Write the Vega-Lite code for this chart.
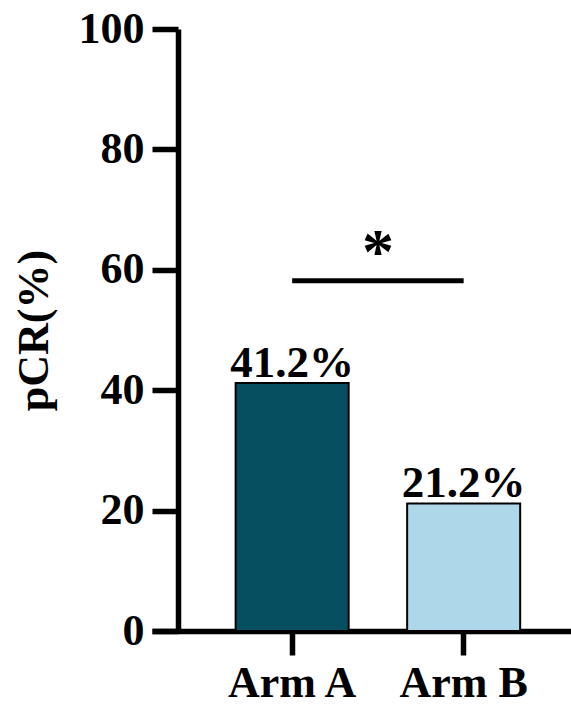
{
  "$schema": "https://vega.github.io/schema/vega-lite/v6.json",
  "autosize": "none",
  "width": 419,
  "height": 602,
  "padding": {"left": 152, "top": 29, "right": 0, "bottom": 75},
  "config": {
    "view": {"stroke": null},
    "font": "Times New Roman, Liberation Serif, serif",
    "axis": {"grid": false, "domainColor": "black", "tickColor": "black", "labelColor": "black", "titleColor": "black", "labelFont": "Times New Roman, Liberation Serif, serif", "titleFont": "Times New Roman, Liberation Serif, serif", "labelFontWeight": "bold", "titleFontWeight": "bold", "labelFontSize": 44, "titleFontSize": 44, "domainWidth": 5.5, "tickWidth": 5.5}
  },
  "datasets": {
    "bars": [
      {"arm": "Arm A", "pcr": 41.2, "label": "41.2%"},
      {"arm": "Arm B", "pcr": 21.2, "label": "21.2%"}
    ],
    "sig": [
      {"from": "Arm A", "to": "Arm B", "y": 58.2, "mark": "*"}
    ]
  },
  "layer": [
    {
      "data": {"name": "bars"},
      "mark": {"type": "bar", "stroke": "black", "strokeWidth": 2},
      "encoding": {
        "x": {"field": "arm", "type": "nominal", "sort": null,
          "scale": {"paddingInner": 0.341, "paddingOuter": 0.392, "align": 0.622},
          "axis": {"title": null, "labelAngle": 0, "tickSize": 24, "labelPadding": 6}},
        "y": {"field": "pcr", "type": "quantitative",
          "scale": {"domain": [0, 100], "nice": false},
          "axis": {"title": "pCR(%)", "values": [0, 20, 40, 60, 80, 100], "offset": -26, "tickSize": 26, "labelPadding": 8, "titlePadding": 22}},
        "color": {"field": "arm", "type": "nominal", "legend": null,
          "scale": {"domain": ["Arm A", "Arm B"], "range": ["#064F60", "#AED8EA"]}}
      }
    },
    {
      "data": {"name": "bars"},
      "mark": {"type": "text", "font": "Times New Roman, Liberation Serif, serif", "fontWeight": "bold", "fontSize": 45, "dy": -6, "baseline": "alphabetic", "color": "black"},
      "encoding": {
        "x": {"field": "arm", "type": "nominal", "sort": null},
        "y": {"field": "pcr", "type": "quantitative"},
        "text": {"field": "label"}
      }
    },
    {
      "data": {"name": "sig"},
      "mark": {"type": "rule", "strokeWidth": 5, "color": "black"},
      "encoding": {
        "x": {"field": "from", "type": "nominal", "sort": null},
        "x2": {"field": "to"},
        "y": {"field": "y", "type": "quantitative"}
      }
    },
    {
      "data": {"name": "sig"},
      "mark": {"type": "text", "font": "Times New Roman, Liberation Serif, serif", "fontWeight": "bold", "fontSize": 64, "baseline": "alphabetic", "dy": -8, "color": "black"},
      "encoding": {
        "x": {"field": "from", "type": "nominal", "sort": null, "bandPosition": 1.26},
        "y": {"field": "y", "type": "quantitative"},
        "text": {"field": "mark"}
      }
    }
  ]
}
